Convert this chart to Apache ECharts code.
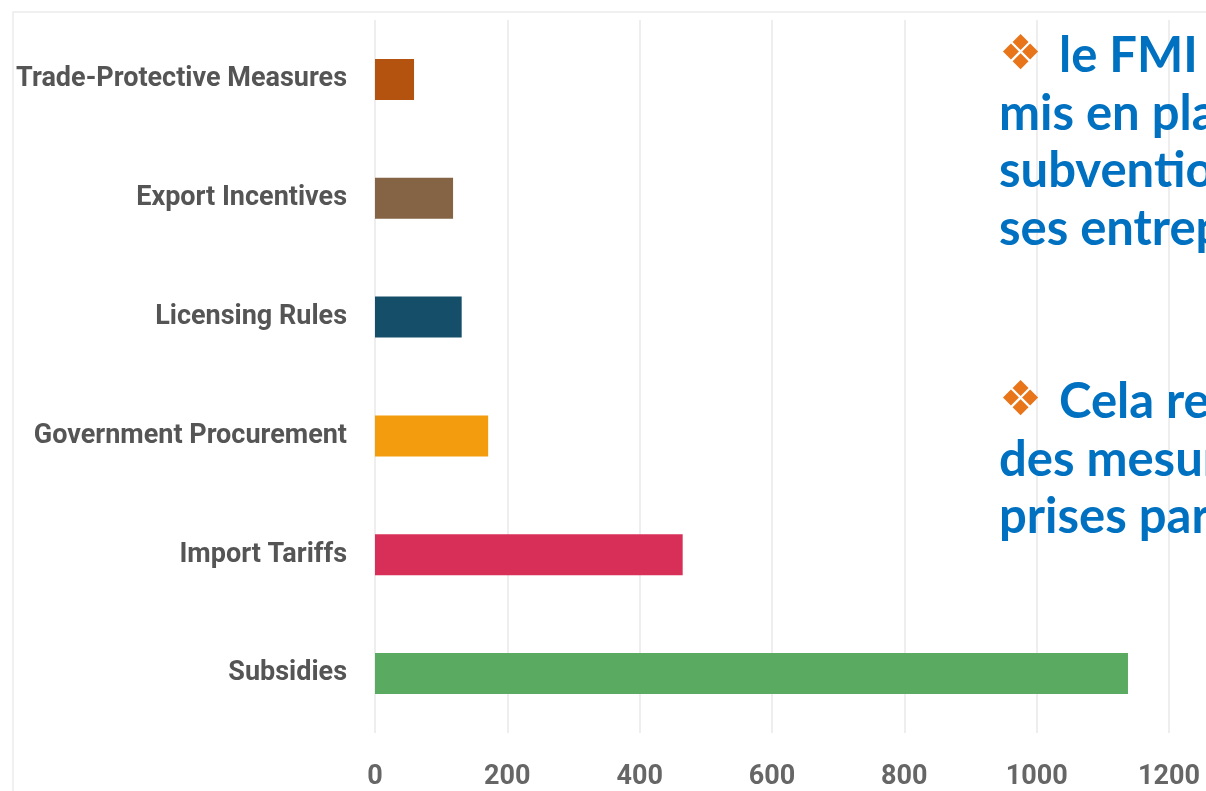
<!DOCTYPE html>
<html>
<head>
<meta charset="utf-8">
<script src="https://cdn.jsdelivr.net/npm/echarts@6/dist/echarts.min.js"></script>
<style>
html,body{margin:0;padding:0;background:#fff;}
#chart{width:1206px;height:791px;}
</style>
</head>
<body>
<div id="chart"></div>
<script>
const categories = ["Trade-Protective Measures","Export Incentives","Licensing Rules","Government Procurement","Import Tariffs","Subsidies"];
const values = [59, 118, 131, 171, 465, 1138];
const barColors = ["#B4520F","#846445","#154E68","#F39C0E","#D72F57","#5AAA62"];
const xTicks = {min:0, max:1200, interval:200};
const block1 = ["le FMI a recensé que la Chine a","mis en place plus de mesures de","subventions pour soutenir","ses entreprises"];
const block2 = ["Cela représente la majorité","des mesures protectionnistes","prises par la Chine"];

const chart = echarts.init(document.getElementById('chart'), null, {renderer:'canvas'});
const textColor = '#0070C0';
const orange = '#E8751A';
function lines(block, y0, step){
  return block.map((t,i)=>({
    type:'text', left:(i===0?999:999), top:y0+i*step, z:100,
    style:{
      text: i===0 ? '{d|❖}{t|'+t+'}' : '{t|'+t+'}',
      rich:{
        d:{fill:orange, fontFamily:'DejaVu Sans', fontSize:48, verticalAlign:'middle', padding:[0,17,0,0]},
        t:{fill:textColor, fontFamily:'Lato', fontWeight:'bold', fontSize:49}
      }
    }
  }));
}
chart.setOption({
  animation:false,
  backgroundColor:'#fff',
  grid:{left:375, right:37, top:20, bottom:58},
  xAxis:{type:'value', min:xTicks.min, max:xTicks.max, interval:xTicks.interval,
    axisLine:{show:false}, axisTick:{show:false},
    splitLine:{show:true, lineStyle:{color:'#e9e9e9', width:1.5}},
    axisLabel:{color:'#666', fontFamily:'Roboto', fontWeight:'bold', fontSize:27, margin:31,
      formatter:(v)=>String(v)}
  },
  yAxis:{type:'category', data:categories, inverse:true,
    axisLine:{show:false}, axisTick:{show:false},
    axisLabel:{color:'#555', fontFamily:'Roboto', fontWeight:'bold', fontSize:27, margin:28,
      padding:[5,0,0,0]}
  },
  series:[{type:'bar', barWidth:41,
    data: values.map((v,i)=>({value:v, itemStyle:{color:barColors[i]}}))
  }],
  graphic:[
    {type:'rect', shape:{x:13, y:12, width:1400, height:900}, style:{fill:'none', stroke:'#ececec', lineWidth:1.5}, z:-1, silent:true}
  ].concat(lines(block1, 32, 57.5)).concat(lines(block2, 378, 57.5))
});
</script>
</body>
</html>
